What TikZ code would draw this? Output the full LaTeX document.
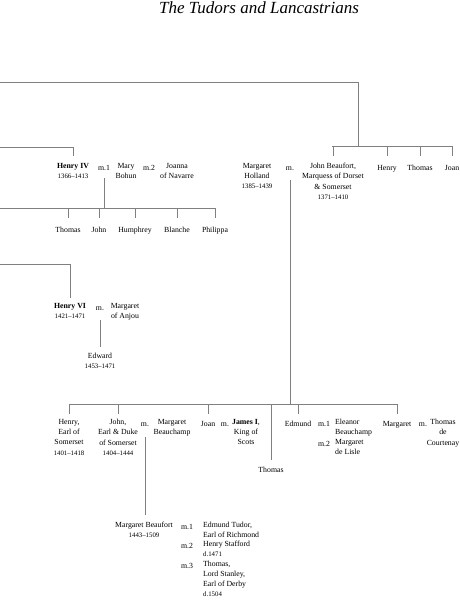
\documentclass[tikz,border=0pt]{standalone}
\usepackage{fontspec}
\setmainfont{Liberation Serif}
\usetikzlibrary{positioning}
\newcommand\yr[1]{{\fontsize{6.8}{10}\selectfont #1}}

\begin{document}
\begin{tikzpicture}[x=1pt,y=-1pt,
    person/.style={align=center,inner sep=0pt,anchor=north,yshift=7.21pt,
      execute at begin node=\strut,font=\fontsize{7.8}{10.3}\selectfont},
    spouse/.style={person,align=left,anchor=north west},
    line/.style={draw=black!50,line width=0.9pt}
  ]
    \useasboundingbox (0,0) rectangle (460,600);
    \node[anchor=base,font=\fontsize{17}{20}\selectfont\itshape] (title) at (259,13.5) {The Tudors and Lancastrians};

    % Henry IV and his wives
    \node[person] (h4) at (73,170) {\textbf{Henry IV}\\\yr{1366--1413}};
    \node[person] (m1a) at (104,170) {m.1};
    \node[person] (mary) at (126,170) {Mary\\Bohun};
    \node[person] (m2a) at (149,170) {m.2};
    \node[person] (joanna) at (177,170) {Joanna\\of Navarre};

    % children of Henry IV
    \node[person] (thomasA) at (68,232) {Thomas};
    \node[person] (johnA) at (99,232) {John};
    \node[person] (humphrey) at (135,232) {Humphrey};
    \node[person] (blanche) at (177,232) {Blanche};
    \node[person] (philippa) at (215,232) {Philippa};

    % Henry VI
    \node[person] (h6) at (70,310) {\textbf{Henry VI}\\\yr{1421--1471}};
    \node[person] (m6) at (100,310) {m.};
    \node[person] (anjou) at (125,310) {Margaret\\of Anjou};
    \node[person] (edward) at (100,360) {Edward\\\yr{1453--1471}};

    % John Beaufort and his siblings
    \node[person] (holland) at (257,170) {Margaret\\Holland\\\yr{1385--1439}};
    \node[person] (mjb) at (290,170) {m.};
    \node[person] (jb) at (333,170) {John Beaufort,\\Marquess of Dorset\\\& Somerset\\\yr{1371--1410}};
    \node[person] (henryB) at (387,170) {Henry};
    \node[person] (thomasB) at (420,170) {Thomas};
    \node[person] (joanB) at (452,170) {Joan};

    % children of John Beaufort
    \node[person] (henryC) at (69,426) {Henry,\\Earl of\\Somerset\\\yr{1401--1418}};
    \node[person] (johnC) at (118,426) {John,\\Earl \& Duke\\of Somerset\\\yr{1404--1444}};
    \node[person] (mjc) at (145,426) {m.};
    \node[person] (beauchamp) at (172,426) {Margaret\\Beauchamp};
    \node[person] (joanC) at (208,426) {Joan};
    \node[person] (mjoan) at (225,426) {m.};
    \node[person] (james) at (246,426) {\textbf{James I},\\King of\\Scots};
    \node[person] (thomasC) at (271,472) {Thomas};
    \node[person] (edmund) at (298,426) {Edmund};
    \node[person] (me1) at (324,426) {m.1};
    \node[spouse] (eleanor) at (335,426) {Eleanor\\Beauchamp};
    \node[person] (me2) at (324,446) {m.2};
    \node[spouse] (lisle) at (335,446) {Margaret\\de Lisle};
    \node[person] (margaretC) at (397,426) {Margaret};
    \node[person] (mmc) at (423,426) {m.};
    \node[person] (courtenay) at (443,426) {Thomas\\de\\Courtenay};

    % Margaret Beaufort
    \node[person] (mbeau) at (144,529) {Margaret Beaufort\\\yr{1443--1509}};
    \node[person] (mb1) at (187,529) {m.1};
    \node[spouse] (tudor) at (203,529) {Edmund Tudor,\\Earl of Richmond};
    \node[person] (mb2) at (187,548) {m.2};
    \node[spouse] (stafford) at (203,548) {Henry Stafford\\\yr{d.1471}};
    \node[person] (mb3) at (187,568) {m.3};
    \node[spouse,font=\fontsize{7.8}{10}\selectfont] (stanley) at (203,568) {Thomas,\\Lord Stanley,\\Earl of Derby\\\yr{d.1504}};

    % lines of descent
    \coordinate (topl) at (0,82);
    \coordinate (busB) at (332,146);
    \coordinate (edgeA) at (0,147);
    \coordinate (busA) at (0,208);
    \coordinate (edgeB) at (0,264);
    \coordinate (busC) at (69,404);

    \draw[line] (topl) -| (358,146);
    \draw[line] (busB) -- (busB -| joanB);
    \foreach \c in {jb,henryB,thomasB,joanB}
      \draw[line,shorten >=6.8pt] (\c.north |- busB) -- (\c.north);

    \draw[line,shorten >=6.8pt] (edgeA) -| (h4.north);
    \draw[line,shorten <=5pt] (m1a.south) -- (m1a.south |- busA);
    \draw[line] (busA) -- (busA -| philippa);
    \foreach \c in {thomasA,johnA,humphrey,blanche,philippa}
      \draw[line,shorten >=6.8pt] (\c.north |- busA) -- (\c.north);

    \draw[line,shorten >=4.8pt] (edgeB) -| (h6.north);
    \draw[line,shorten <=7pt,shorten >=5.8pt] (m6.south) -- (edward.north);

    \draw[line,shorten <=7pt] (mjb.south) -- (mjb.south |- busC);
    \draw[line] (busC) -- (busC -| margaretC);
    \foreach \c in {henryC,johnC,joanC,thomasC,edmund,margaretC}
      \draw[line,shorten >=4.8pt] (\c.north |- busC) -- (\c.north);

    \draw[line,shorten <=8pt,shorten >=6.8pt] (mjc.south) -- (mjc.south |- mbeau.north);
\end{tikzpicture}
\end{document}
